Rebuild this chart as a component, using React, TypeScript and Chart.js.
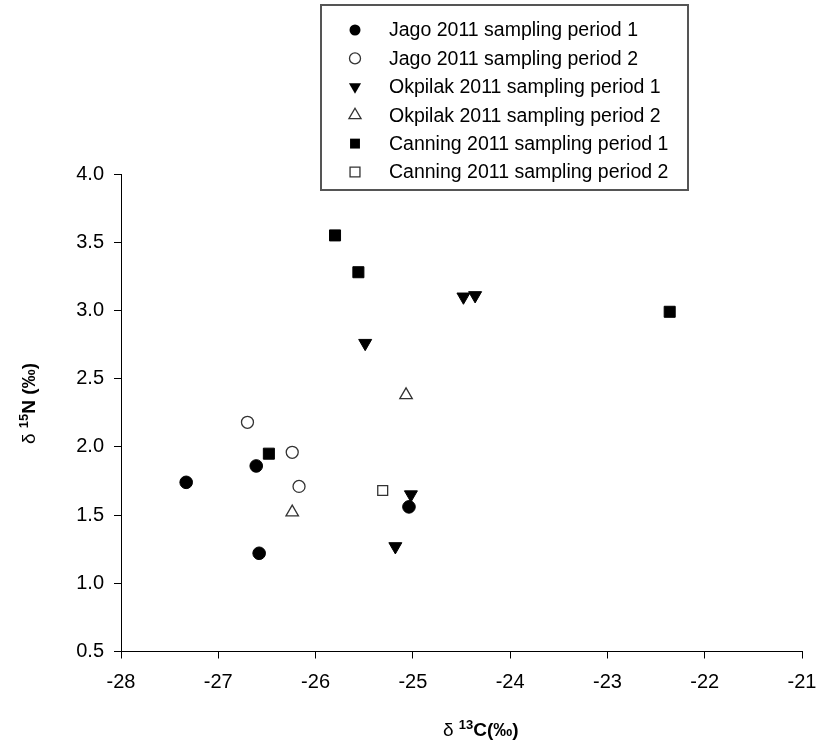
import React, { useEffect, useRef } from 'react';
import { Chart, registerables } from 'chart.js';

Chart.register(...registerables);

// δ13C (x) and δ15N (y) values per river and sampling period
const jagoP1X = [-27.33, -26.61, -26.58, -25.04];
const jagoP1Y = [1.74, 1.86, 1.22, 1.56];
const jagoP2X = [-26.7, -26.24, -26.17];
const jagoP2Y = [2.18, 1.96, 1.71];
const okpilakP1X = [-25.02, -25.18, -25.49, -24.48, -24.36];
const okpilakP1Y = [1.65, 1.27, 2.76, 3.1, 3.11];
const okpilakP2X = [-26.24, -25.07];
const okpilakP2Y = [1.52, 2.38];
const canningP1X = [-26.48, -25.8, -25.56, -22.36];
const canningP1Y = [1.95, 3.55, 3.28, 2.99];
const canningP2X = [-25.31];
const canningP2Y = [1.68];

const seriesLabels = [
  'Jago 2011 sampling period 1',
  'Jago 2011 sampling period 2',
  'Okpilak 2011 sampling period 1',
  'Okpilak 2011 sampling period 2',
  'Canning 2011 sampling period 1',
  'Canning 2011 sampling period 2',
];

const xMin = -28;
const xMax = -21;
const yMin = 0.5;
const yMax = 4.0;

const FONT = '"Liberation Sans", Arial, Helvetica, sans-serif';

type Marker = { style: 'circle' | 'triangle' | 'rect'; filled: boolean; rotation: number; radius: number };

const markers: Marker[] = [
  { style: 'circle', filled: true, rotation: 0, radius: 6.3 },
  { style: 'circle', filled: false, rotation: 0, radius: 6 },
  { style: 'triangle', filled: true, rotation: 180, radius: 7.5 },
  { style: 'triangle', filled: false, rotation: 0, radius: 7.2 },
  { style: 'rect', filled: true, rotation: 0, radius: 7.8 },
  { style: 'rect', filled: false, rotation: 0, radius: 7 },
];

const toPoints = (xs: number[], ys: number[]) => xs.map((x, i) => ({ x, y: ys[i] }));

const seriesData = [
  toPoints(jagoP1X, jagoP1Y),
  toPoints(jagoP2X, jagoP2Y),
  toPoints(okpilakP1X, okpilakP1Y),
  toPoints(okpilakP2X, okpilakP2Y),
  toPoints(canningP1X, canningP1Y),
  toPoints(canningP2X, canningP2Y),
];

function drawMarker(ctx: CanvasRenderingContext2D, m: Marker, x: number, y: number, r: number) {
  ctx.beginPath();
  if (m.style === 'circle') {
    ctx.arc(x, y, r, 0, Math.PI * 2);
  } else if (m.style === 'rect') {
    const s = r * Math.SQRT1_2;
    ctx.rect(x - s, y - s, 2 * s, 2 * s);
  } else {
    let rad = (m.rotation * Math.PI) / 180;
    for (let k = 0; k < 3; k++) {
      const px = x + Math.sin(rad) * r;
      const py = y - Math.cos(rad) * r;
      if (k === 0) ctx.moveTo(px, py);
      else ctx.lineTo(px, py);
      rad += (2 * Math.PI) / 3;
    }
    ctx.closePath();
  }
  if (m.filled) {
    ctx.fillStyle = '#000';
    ctx.fill();
  } else {
    ctx.fillStyle = '#fff';
    ctx.fill();
    ctx.strokeStyle = '#333';
    ctx.lineWidth = 1.3;
    ctx.stroke();
  }
}

type Part = { text: string; font: string; sup?: boolean };

function drawParts(ctx: CanvasRenderingContext2D, parts: Part[], x: number, y: number) {
  let cx = x;
  ctx.textBaseline = 'alphabetic';
  ctx.textAlign = 'left';
  ctx.fillStyle = '#000';
  for (const p of parts) {
    ctx.font = p.font;
    ctx.fillText(p.text, cx, p.sup ? y - 7 : y);
    cx += ctx.measureText(p.text).width;
  }
}

const decorations = {
  id: 'decorations',
  afterDraw(chart: Chart) {
    const ctx = chart.ctx;
    ctx.save();

    // legend box
    ctx.strokeStyle = '#555';
    ctx.lineWidth = 2;
    ctx.strokeRect(321, 5, 367, 185);
    seriesLabels.forEach((label, i) => {
      const rowY = 30 + i * 28.4;
      const m = markers[i];
      drawMarker(ctx, m, 355, rowY, m.style === 'rect' ? 7 : m.style === 'triangle' ? 7 : 5.5);
      ctx.font = `19.5px ${FONT}`;
      ctx.fillStyle = '#000';
      ctx.textAlign = 'left';
      ctx.textBaseline = 'middle';
      ctx.fillText(label, 389, rowY + 1);
    });

    // x axis title
    drawParts(
      ctx,
      [
        { text: 'δ ', font: `19px ${FONT}` },
        { text: '13', font: `bold 13px ${FONT}`, sup: true },
        { text: 'C(‰)', font: `bold 19px ${FONT}` },
      ],
      443,
      736
    );

    // y axis title, rotated to read upwards
    ctx.translate(35, 444);
    ctx.rotate(-Math.PI / 2);
    drawParts(
      ctx,
      [
        { text: 'δ ', font: `19px ${FONT}` },
        { text: '15', font: `bold 13px ${FONT}`, sup: true },
        { text: 'N (‰)', font: `bold 19px ${FONT}` },
      ],
      0,
      0
    );
    ctx.restore();
  },
};

export default function App() {
  const canvasRef = useRef<HTMLCanvasElement | null>(null);

  useEffect(() => {
    const canvas = canvasRef.current;
    if (!canvas) return;
    const chart = new Chart(canvas, {
      type: 'scatter',
      data: {
        datasets: seriesData.map((data, i) => {
          const m = markers[i];
          return {
            label: seriesLabels[i],
            data,
            showLine: false,
            pointStyle: m.style,
            pointRotation: m.rotation,
            pointRadius: m.radius,
            pointHoverRadius: m.radius,
            backgroundColor: m.filled ? '#000' : '#fff',
            borderColor: m.filled ? '#000' : '#333',
            borderWidth: m.filled ? 1 : 1.3,
          };
        }),
      },
      options: {
        animation: false,
        responsive: false,
        events: [],
        layout: { padding: { top: 174, right: 14, left: 0, bottom: 0 } },
        plugins: {
          legend: { display: false },
          tooltip: { enabled: false },
        },
        scales: {
          x: {
            type: 'linear',
            min: xMin,
            max: xMax,
            afterFit: (scale: any) => {
              scale.height = 94.5;
              scale.paddingLeft = 0;
              scale.paddingRight = 0;
            },
            ticks: {
              stepSize: 1,
              color: '#000',
              font: { family: FONT, size: 20 },
              padding: 12,
              maxRotation: 0,
            },
            grid: {
              display: true,
              drawOnChartArea: false,
              drawTicks: true,
              tickLength: 7,
              tickColor: '#000',
            },
            border: { display: true, color: '#000', width: 1 },
          },
          y: {
            type: 'linear',
            min: yMin,
            max: yMax,
            afterFit: (scale: any) => {
              scale.width = 121;
              scale.paddingTop = 0;
              scale.paddingBottom = 0;
            },
            ticks: {
              stepSize: 0.5,
              color: '#000',
              font: { family: FONT, size: 20 },
              padding: 10,
              callback: (v: any) => Number(v).toFixed(1),
            },
            grid: {
              display: true,
              drawOnChartArea: false,
              drawTicks: true,
              tickLength: 7,
              tickColor: '#000',
            },
            border: { display: true, color: '#000', width: 1 },
          },
        },
      },
      plugins: [decorations],
    });
    return () => chart.destroy();
  }, []);

  return (
    <div style={{ position: 'fixed', left: 0, top: 0, width: 816, height: 746, background: '#fff' }}>
      <canvas ref={canvasRef} width={816} height={746} style={{ display: 'block', width: 816, height: 746 }} />
    </div>
  );
}
